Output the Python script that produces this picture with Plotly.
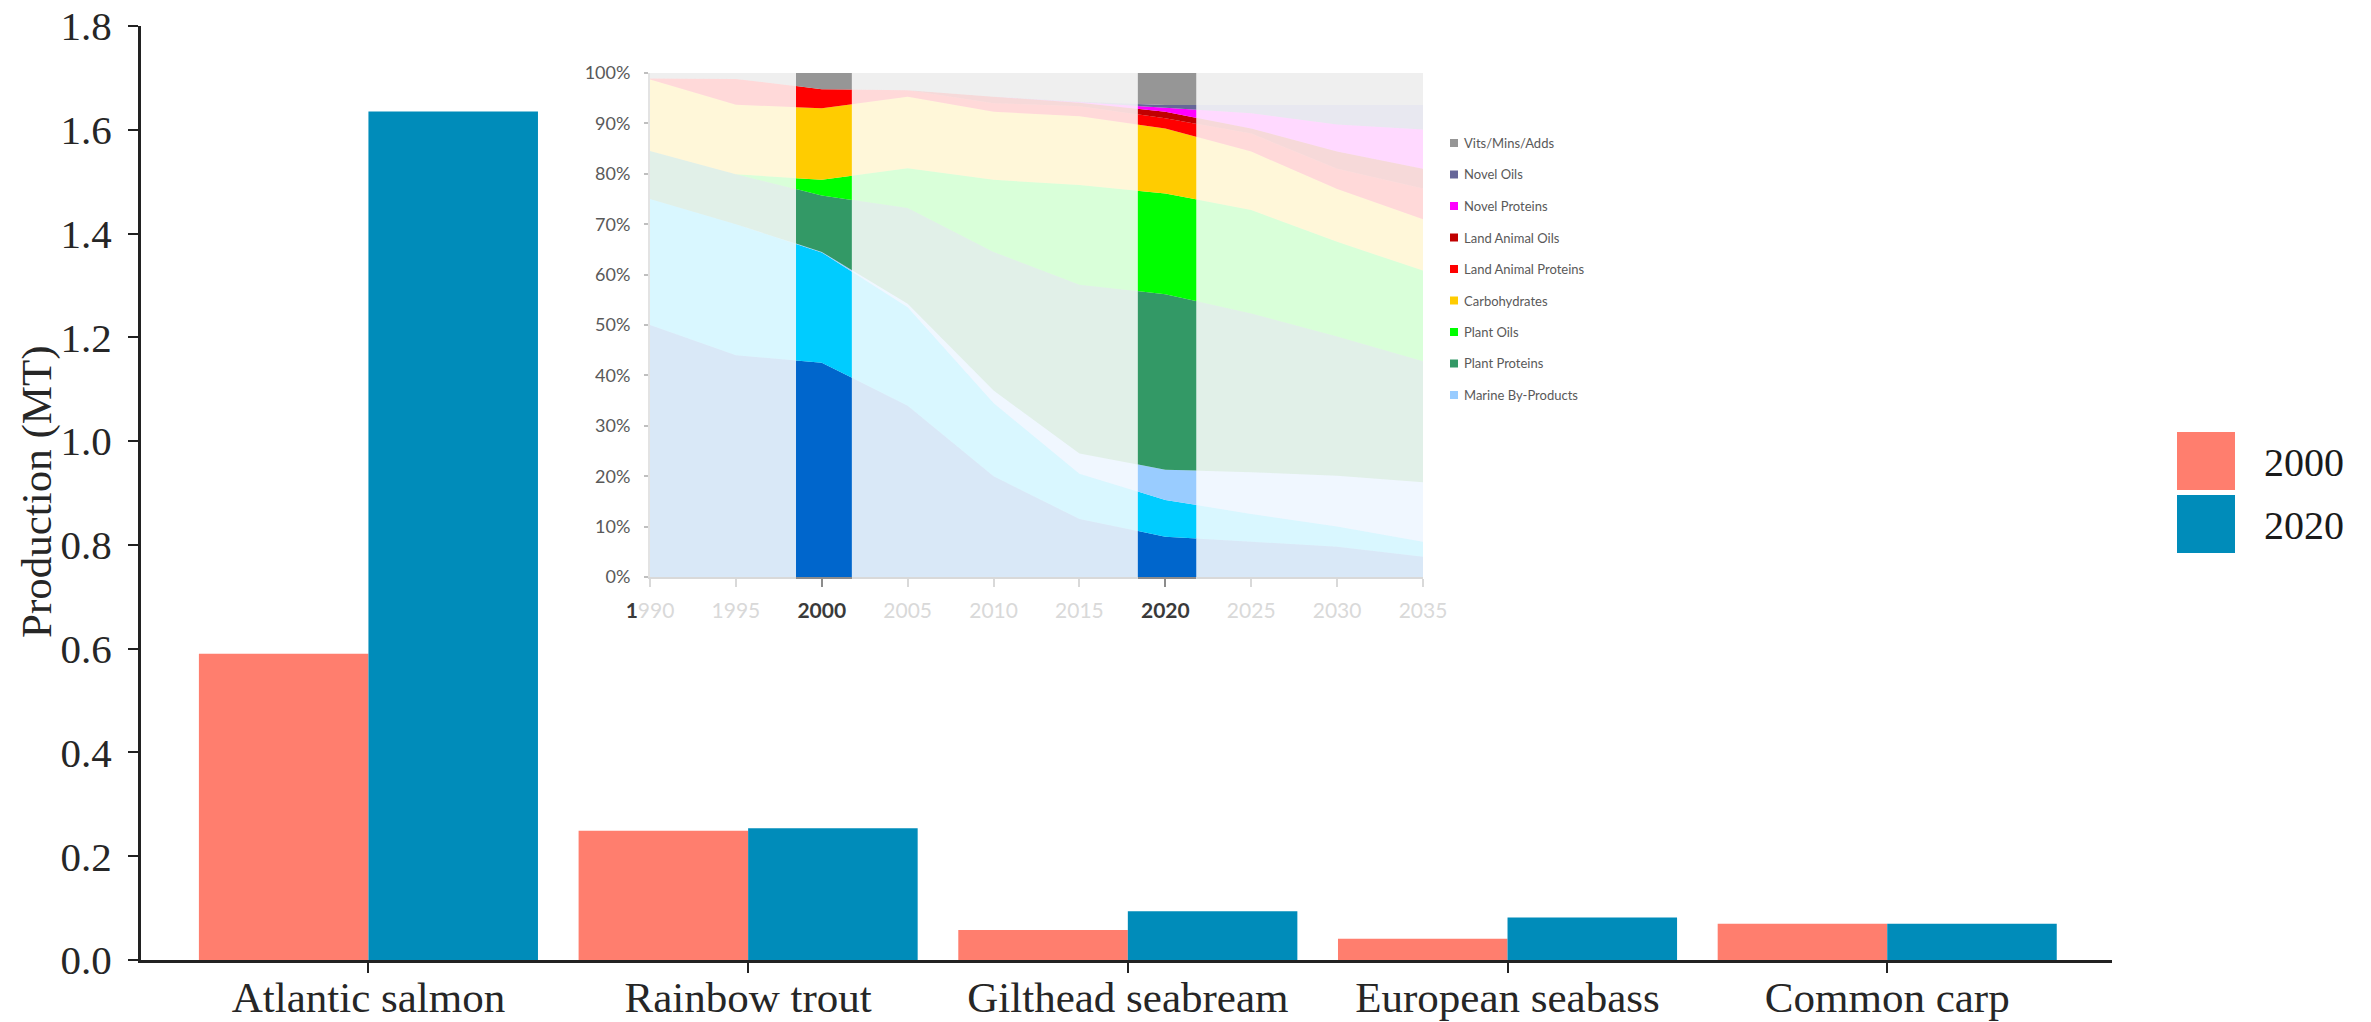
import plotly.graph_objects as go

W, H = 2371, 1022

# ---- main bar chart data ----
SPECIES = ["Atlantic salmon", "Rainbow trout", "Gilthead seabream", "European seabass", "Common carp"]
PROD_2000 = [0.59, 0.249, 0.058, 0.041, 0.070]
PROD_2020 = [1.635, 0.254, 0.094, 0.082, 0.070]
BAR_YEARS = ["2000", "2020"]
BAR_COLORS = ["#FF7E6E", "#008CBA"]
Y_TICKS = [0.0, 0.2, 0.4, 0.6, 0.8, 1.0, 1.2, 1.4, 1.6, 1.8]

# ---- inset: feed composition (% of diet) ----
FEED_YEARS = [1990, 1995, 2000, 2005, 2010, 2015, 2020, 2025, 2030, 2035]
FISHMEAL = [50.0, 44.0, 42.5, 34.0, 20.0, 11.5, 8.0, 7.0, 6.0, 4.0]
FISH_OIL = [25.0, 26.0, 21.9, 19.5, 14.5, 9.0, 7.3, 5.5, 4.0, 3.0]
MARINE_BYPRODUCTS = [0.0, 0.0, 0.1, 0.7, 2.5, 4.0, 6.0, 8.3, 10.1, 11.8]
PLANT_PROTEINS = [9.5, 9.9, 11.2, 19.0, 27.5, 33.5, 34.8, 31.5, 27.6, 24.0]
PLANT_OILS = [0.0, 0.0, 3.1, 7.9, 14.3, 19.8, 20.0, 20.5, 18.8, 18.0]
CARBOHYDRATES = [14.2, 13.8, 14.2, 14.2, 13.5, 13.6, 12.9, 11.6, 10.5, 10.2]
LAND_ANIMAL_PROTEINS = [0.2, 5.1, 3.8, 1.3, 1.7, 2.0, 2.0, 3.6, 4.0, 6.1]
LAND_ANIMAL_OILS = [0.0, 0.0, 0.0, 0.0, 1.3, 0.7, 1.3, 1.0, 3.4, 3.9]
NOVEL_PROTEINS = [0.0, 0.0, 0.0, 0.0, 0.0, 0.1, 0.8, 3.0, 5.4, 7.8]
NOVEL_OILS = [0.0, 0.0, 0.0, 0.0, 0.0, 0.1, 0.55, 1.65, 3.85, 4.85]
VITS_MINS_ADDS = [1.1, 1.2, 3.2, 3.4, 4.7, 5.7, 6.35, 6.35, 6.35, 6.35]
PCT_TICKS = [0, 10, 20, 30, 40, 50, 60, 70, 80, 90, 100]
HIGHLIGHT_YEARS = [2000, 2020]

# (name, values, colour, shown in inset legend) - bottom to top
LAYERS = [
    ("Fishmeal", FISHMEAL, (0, 102, 204), False),
    ("Fish Oil", FISH_OIL, (0, 204, 255), False),
    ("Marine By-Products", MARINE_BYPRODUCTS, (153, 204, 255), True),
    ("Plant Proteins", PLANT_PROTEINS, (51, 153, 102), True),
    ("Plant Oils", PLANT_OILS, (0, 255, 0), True),
    ("Carbohydrates", CARBOHYDRATES, (255, 204, 0), True),
    ("Land Animal Proteins", LAND_ANIMAL_PROTEINS, (255, 0, 0), True),
    ("Land Animal Oils", LAND_ANIMAL_OILS, (192, 0, 0), True),
    ("Novel Proteins", NOVEL_PROTEINS, (255, 0, 255), True),
    ("Novel Oils", NOVEL_OILS, (102, 102, 153), True),
    ("Vits/Mins/Adds", VITS_MINS_ADDS, (150, 150, 150), True),
]

# ---- pixel layout helpers ----
ML, MR, MT, MB = 141, 259, 26, 62
PW, PH = W - ML - MR, H - MT - MB


def px(x):
    return (x - ML) / PW


def py(y):
    return (H - MB - y) / PH


INSET_X = (650, 1423)
INSET_Y = (73, 577)
INSET_RANGE = (1990, 2035)
BANDS = [(1998.5, 2001.75), (2018.4, 2021.8)]


def year_to_paper(yr):
    frac = (yr - INSET_RANGE[0]) / (INSET_RANGE[1] - INSET_RANGE[0])
    return px(INSET_X[0] + frac * (INSET_X[1] - INSET_X[0]))


SERIF = "Liberation Serif, Times New Roman, serif"
SANS = "Lato, Open Sans, sans-serif"

fig = go.Figure()

for name, vals, col in zip(BAR_YEARS, [PROD_2000, PROD_2020], BAR_COLORS):
    fig.add_trace(go.Bar(x=SPECIES, y=vals, name=name, marker_color=col,
                         marker_line_width=0, showlegend=False))

# pale full-range areas
for name, vals, rgb, _ in LAYERS:
    fig.add_trace(go.Scatter(
        x=FEED_YEARS, y=vals, name=name, stackgroup="pale", mode="none",
        fillcolor="rgba(%d,%d,%d,0.15)" % rgb, xaxis="x2", yaxis="y2",
        showlegend=False, hoverinfo="skip",
    ))

# vivid highlight columns (same data, clipped by their own axes)
for i, _ in enumerate(BANDS):
    ax = "x%d" % (i + 3)
    for name, vals, rgb, _ in LAYERS:
        fig.add_trace(go.Scatter(
            x=FEED_YEARS, y=vals, name=name, stackgroup="band%d" % i, mode="none",
            fillcolor="rgb(%d,%d,%d)" % rgb, xaxis=ax, yaxis="y2",
            showlegend=False, hoverinfo="skip",
        ))

ix0, ix1 = px(INSET_X[0]), px(INSET_X[1])
iy0, iy1 = py(INSET_Y[1]), py(INSET_Y[0])


def year_label(y):
    if y in HIGHLIGHT_YEARS:
        return "<span style='color:#3a3a3a'><b>%d</b></span>" % y
    if y == FEED_YEARS[0]:
        s = str(y)
        return "<span style='color:#3a3a3a'><b>%s</b></span>%s" % (s[0], s[1:])
    return str(y)


layout = dict(
    width=W, height=H,
    margin=dict(l=ML, r=MR, t=MT, b=MB),
    paper_bgcolor="white", plot_bgcolor="rgba(0,0,0,0)",
    barmode="group", bargap=0.107, bargroupgap=0,
    showlegend=False,
    xaxis=dict(
        range=[-0.599, 4.592], showline=True, linewidth=3, linecolor="#222",
        ticks="outside", ticklen=10, tickwidth=2, tickcolor="#222",
        tickfont=dict(family=SERIF, size=43, color="#262626"),
        showgrid=False, zeroline=False, automargin=False, ticklabelstandoff=-13,
    ),
    yaxis=dict(
        range=[0, 1.8], tickvals=Y_TICKS, ticktext=["%.1f" % v for v in Y_TICKS],
        showline=True, linewidth=3, linecolor="#222",
        ticks="outside", ticklen=10, tickwidth=2, tickcolor="#222",
        tickfont=dict(family=SERIF, size=41, color="#262626"),
        showgrid=False, zeroline=False, ticklabelstandoff=8, automargin=False,
    ),
    xaxis2=dict(
        domain=[ix0, ix1], anchor="y2", range=list(INSET_RANGE),
        tickvals=FEED_YEARS, ticktext=[year_label(y) for y in FEED_YEARS],
        tickfont=dict(family=SANS, size=21, color="#D9D9D9"),
        showline=True, linecolor="#D9D9D9", linewidth=2,
        ticks="outside", ticklen=8, tickcolor="#D9D9D9", tickwidth=2,
        showgrid=False, zeroline=False, ticklabelstandoff=6, automargin=False,
    ),
    yaxis2=dict(
        domain=[iy0, iy1], anchor="x2", range=[0, 100],
        tickvals=PCT_TICKS, ticktext=["%d%%" % v for v in PCT_TICKS],
        tickfont=dict(family=SANS, size=18, color="#595959"),
        showline=True, linecolor="#E3E3E3", linewidth=2,
        ticks="outside", ticklen=4, tickcolor="#BFBFBF", tickwidth=2,
        showgrid=False, zeroline=False, ticklabelstandoff=10, automargin=False,
    ),
)

for i, (b0, b1) in enumerate(BANDS):
    layout["xaxis%d" % (i + 3)] = dict(
        domain=[year_to_paper(b0), year_to_paper(b1)], anchor="y2", range=[b0, b1],
        showline=True, linecolor="#8C8C8C", linewidth=2,
        tickvals=[HIGHLIGHT_YEARS[i]], ticks="outside", ticklen=8, tickwidth=2,
        tickcolor="#8C8C8C", showticklabels=False, showgrid=False, zeroline=False,
        automargin=False,
    )

fig.update_layout(**layout)

# axis title
fig.add_annotation(
    text="Production (MT)", x=px(37), y=py(492), xref="paper", yref="paper",
    textangle=-90, showarrow=False, xanchor="center", yanchor="middle",
    font=dict(family=SERIF, size=43, color="#262626"),
)

# main legend (large swatches)
for k, (lab, col) in enumerate(zip(BAR_YEARS, BAR_COLORS)):
    top = 432 + k * 63
    fig.add_shape(type="rect", xref="paper", yref="paper",
                  x0=px(2177), x1=px(2235), y0=py(top + 58), y1=py(top),
                  fillcolor=col, line_width=0)
    fig.add_annotation(text=lab, x=px(2262), y=py(top + 30), xref="paper", yref="paper",
                       showarrow=False, xanchor="left", yanchor="middle",
                       font=dict(family=SERIF, size=40, color="#1a1a1a"))

# inset legend
legend_items = [(n, rgb) for n, _, rgb, show in reversed(LAYERS) if show]
for k, (lab, rgb) in enumerate(legend_items):
    cy = 143 + k * 31.5
    fig.add_shape(type="rect", xref="paper", yref="paper",
                  x0=px(1450), x1=px(1458), y0=py(cy + 4), y1=py(cy - 4),
                  fillcolor="rgb(%d,%d,%d)" % rgb, line_width=0)
    fig.add_annotation(text=lab, x=px(1462), y=py(cy), xref="paper", yref="paper",
                       showarrow=False, xanchor="left", yanchor="middle",
                       font=dict(family=SANS, size=13, color="#595959"))

fig.write_html("out.html", config={"displayModeBar": False},
               post_script="document.body.style.margin='0';")
